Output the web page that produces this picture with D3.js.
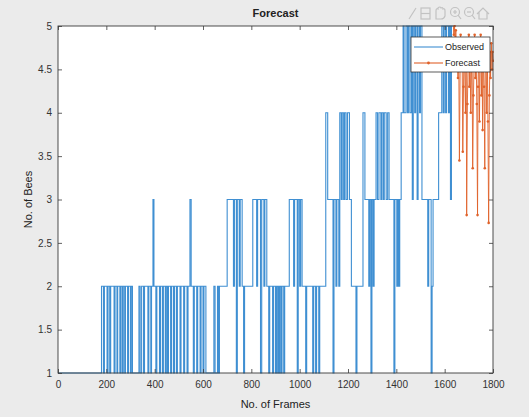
<!DOCTYPE html>
<html><head><meta charset="utf-8">
<script src="https://cdn.jsdelivr.net/npm/d3@7"></script>
<style>body{margin:0;background:#ebebeb}svg{display:block}</style>
</head><body>
<svg id="c" width="529" height="417"></svg>
<script>
// ---- data ----
const xTicks = [0,200,400,600,800,1000,1200,1400,1600,1800];
const yTicks = [1,1.5,2,2.5,3,3.5,4,4.5,5];
// observed: [frame, bees] change points (step)
const observedSteps = [
 [0,1],
 [180,2],[188,1],[192,2],[203,1],[207,2],[214,1],[218,2],[232,1],[236,2],[244,1],[247,2],[256,1],[260,2],[266,1],[270,2],[276,1],[279,2],[288,1],[292,2],[300,1],[303,2],[308,1],
 [335,2],[340,1],[346,2],[354,1],[358,2],[372,1],[376,2],[384,1],[387,2],[393,3],[397,2],[405,1],[409,2],[420,1],[424,2],[432,1],[436,2],[444,1],[448,2],[453,1],[457,2],[466,1],[470,2],[478,1],[482,2],[490,1],[494,2],[505,1],[509,2],[520,1],[524,2],[534,1],[538,2],[546,3],[551,2],[560,1],[564,2],[574,1],[578,2],[588,1],[592,2],[600,1],[604,2],[612,1],
 [645,2],[650,1],[660,2],[664,1],[668,2],
 [700,3],[726,2],[730,3],[738,1],[742,3],[750,2],[754,3],[762,2],[768,1],[772,2],
 [806,3],[822,2],[826,3],[838,1],[843,3],[852,2],[856,3],[864,2],
 [872,1],[876,2],[888,1],[892,2],[900,1],[904,2],[909,1],[912,2],[916,1],[919,2],[924,1],[927,2],[934,1],[938,2],
 [957,3],[975,2],[979,3],[990,1],[994,3],[1000,2],[1004,3],[1010,2],
 [1025,1],[1029,2],[1054,1],[1058,2],[1066,1],[1070,2],[1079,1],[1083,2],
 [1108,4],[1116,3],[1138,1],[1142,3],[1150,2],[1154,3],[1162,2],[1166,4],[1172,3],[1176,4],[1182,3],[1186,4],[1192,3],[1198,4],[1206,3],[1214,2],
 [1233,1],[1237,2],
 [1262,4],[1270,3],[1286,2],[1290,3],[1295,1],[1299,3],[1304,2],[1308,3],[1316,4],[1322,3],[1328,4],[1336,3],[1340,4],[1346,3],[1350,4],[1358,3],[1364,4],[1370,3],[1390,1],[1394,3],[1402,2],[1406,3],[1410,2],[1414,3],
 [1420,4],[1428,5],[1432,4],[1440,5],[1446,4],[1450,5],[1456,4],[1462,5],[1466,3],[1470,5],[1476,4],[1480,5],[1486,3],[1490,5],[1496,4],[1500,5],[1506,3],
 [1530,2],[1534,3],[1544,1],[1548,2],[1552,3],[1575,4],[1588,5],[1594,4],[1598,5],[1604,4],[1608,5],[1616,4],[1620,5],[1624,3],[1628,5],[1636,5]
];
const forecastFrames = [1638,1641,1644,1646,1649,1652,1655,1658,1661,1664,1666,1669,1672,1675,1678,1680,1683,1686,1689,1691,1694,1697,1700,1702,1705,1708,1711,1713,1716,1719,1722,1724,1727,1730,1733,1736,1738,1741,1744,1746,1749,1752,1755,1757,1760,1763,1766,1768,1771,1774,1777,1779,1782,1785,1788,1790,1793,1796,1798,1800];
const forecastBees = [4.9,5.0,4.7,4.95,4.6,4.85,4.4,4.8,3.45,4.5,4.9,4.7,4.85,3.55,4.3,4.75,4.5,4.0,4.8,2.82,4.1,4.6,4.9,4.3,4.7,4.0,4.5,4.85,3.36,4.2,4.6,4.9,4.4,4.75,4.1,2.82,4.3,4.8,3.9,4.5,4.9,4.2,4.6,3.8,4.7,4.3,3.36,4.5,4.85,4.0,4.6,3.9,2.73,4.2,4.7,4.4,4.8,4.5,4.7,4.6];
const seriesNames = ["Observed","Forecast"];
const colors = ["#3f8fd2","#e0622a"];

// ---- layout ----
const L = 58, R = 493, T = 26, B = 373;
const svg = d3.select("#c");
svg.append("rect").attr("width",529).attr("height",417).attr("fill","#ebebeb");
const x = d3.scaleLinear().domain([0,1800]).range([L,R]);
const y = d3.scaleLinear().domain([1,5]).range([B,T]);

svg.append("rect").attr("x",L).attr("y",T).attr("width",R-L).attr("height",B-T).attr("fill","#fff");

const plot = svg.append("g");
const clip = svg.append("clipPath").attr("id","cp").append("rect").attr("x",L).attr("y",T-1).attr("width",R-L+1).attr("height",B-T+2);
plot.attr("clip-path","url(#cp)");

// observed
plot.append("path")
  .attr("d", d3.line().x(d=>x(d[0])).y(d=>y(d[1])).curve(d3.curveStepAfter)(observedSteps))
  .attr("fill","none").attr("stroke",colors[0]).attr("stroke-width",1.1);

// forecast
const fc = forecastFrames.map((f,i)=>[f,forecastBees[i]]);
fc.unshift([observedSteps[observedSteps.length-1][0], observedSteps[observedSteps.length-1][1]]);
plot.append("path")
  .attr("d", d3.line().x(d=>x(d[0])).y(d=>y(d[1]))(fc))
  .attr("fill","none").attr("stroke",colors[1]).attr("stroke-width",0.9);
plot.selectAll("circle.fc").data(fc.slice(1)).join("circle").attr("class","fc")
  .attr("cx",d=>x(d[0])).attr("cy",d=>y(d[1])).attr("r",1.3).attr("fill",colors[1]);

// axes
const axCol = "#3a3a3a";
const fmt = d => String(d);
const gx = svg.append("g").attr("transform",`translate(0,${B})`)
  .call(d3.axisBottom(x).tickValues(xTicks).tickSizeInner(-4).tickSizeOuter(0).tickPadding(8).tickFormat(fmt));
const gy = svg.append("g").attr("transform",`translate(${L},0)`)
  .call(d3.axisLeft(y).tickValues(yTicks).tickSizeInner(-4).tickSizeOuter(0).tickPadding(6).tickFormat(fmt));
const gt = svg.append("g").attr("transform",`translate(0,${T})`)
  .call(d3.axisTop(x).tickValues(xTicks).tickSizeInner(-4).tickSizeOuter(0).tickFormat(""));
const gr = svg.append("g").attr("transform",`translate(${R},0)`)
  .call(d3.axisRight(y).tickValues(yTicks).tickSizeInner(-4).tickSizeOuter(0).tickFormat(""));
[gx,gy,gt,gr].forEach(g=>{
  g.select(".domain").remove();
  g.selectAll(".tick line").attr("stroke",axCol).attr("stroke-width",0.8);
  g.selectAll(".tick text").attr("fill","#333").style("font-family","Liberation Sans, Arial, sans-serif").style("font-size","10px");
});
svg.append("rect").attr("x",L).attr("y",T).attr("width",R-L).attr("height",B-T)
  .attr("fill","none").attr("stroke",axCol).attr("stroke-width",0.9);

// labels
const ff = "Liberation Sans, Arial, sans-serif";
svg.append("text").attr("x",(L+R)/2).attr("y",17).attr("text-anchor","middle")
  .style("font-family",ff).style("font-size","11px").style("font-weight","bold").attr("fill","#222").text("Forecast");
svg.append("text").attr("x",(L+R)/2).attr("y",408).attr("text-anchor","middle")
  .style("font-family",ff).style("font-size","11px").attr("fill","#222").text("No. of Frames");
svg.append("text").attr("transform",`translate(32,${(T+B)/2}) rotate(-90)`).attr("text-anchor","middle")
  .style("font-family",ff).style("font-size","11px").attr("fill","#222").text("No. of Bees");

// legend
const lg = svg.append("g");
lg.append("rect").attr("x",411).attr("y",37).attr("width",79).attr("height",35).attr("fill","#fff").attr("stroke","#333").attr("stroke-width",0.8);
seriesNames.forEach((n,i)=>{
  const yy = 47 + i*16;
  lg.append("line").attr("x1",414).attr("x2",443).attr("y1",yy).attr("y2",yy).attr("stroke",colors[i]).attr("stroke-width",1.1);
  if(i===1) lg.append("circle").attr("cx",428.5).attr("cy",yy).attr("r",1.4).attr("fill",colors[i]);
  lg.append("text").attr("x",445).attr("y",yy+3).style("font-family",ff).style("font-size","9px").attr("fill","#222").text(n);
});

// toolbar icons (light gray)
const tb = svg.append("g").attr("stroke","#c2c2c2").attr("fill","none").attr("stroke-width",1.2);
tb.append("path").attr("d","M409,19 L416,8");
tb.append("rect").attr("x",421).attr("y",8).attr("width",9).attr("height",11);
tb.append("path").attr("d","M421,13.5 H430");
tb.append("path").attr("d","M436,19 L436,11 Q436,8 438,9 L438,8 Q440,6 441,8 Q443,7 443,9 Q445,8 445,11 L445,16 Q444,19 441,19 Z");
[455,469].forEach((cx,k)=>{
  tb.append("circle").attr("cx",cx).attr("cy",12).attr("r",4.5);
  tb.append("path").attr("d",`M${cx+3},15 L${cx+6},19`);
  tb.append("path").attr("d",`M${cx-2},12 H${cx+2}` + (k===0?` M${cx},10 V14`:""));
});
tb.append("path").attr("d","M477,14 L483,8 L489,14 M479,12 V19 H487 V12");
</script>
</body></html>
